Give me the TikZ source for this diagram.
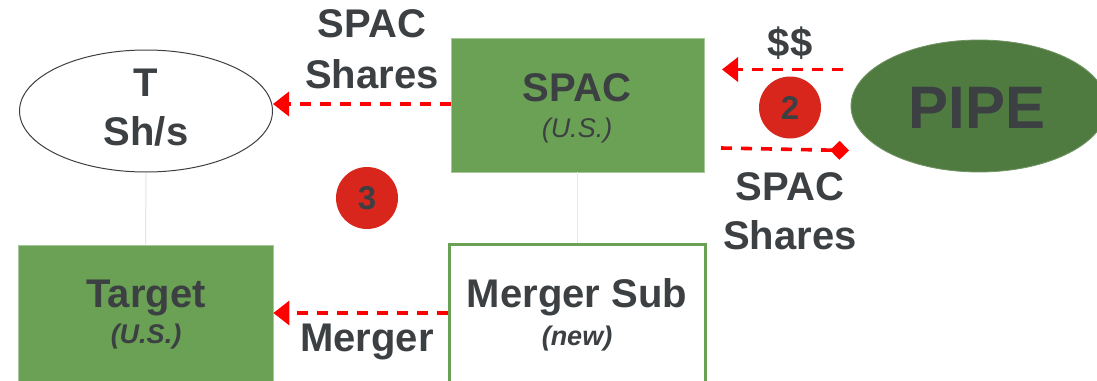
\documentclass[tikz,border=0pt]{standalone}
\usepackage{fontspec}
\setmainfont{Liberation Sans}
\usetikzlibrary{shapes.geometric,arrows.meta}
\definecolor{boxgreen}{HTML}{6AA155}
\definecolor{pipegreen}{HTML}{507B40}
\definecolor{inkgray}{HTML}{3C4043}
\definecolor{badgered}{HTML}{D9261C}
\definecolor{flowred}{HTML}{FF0000}
\definecolor{linkgray}{HTML}{E4E8DE}
\tikzset{
  every node/.style={text=inkgray, font=\bfseries, align=center},
  big/.style={font=\fontsize{40}{46}\selectfont\bfseries},
  sub/.style={font=\fontsize{27}{31}\selectfont\bfseries\itshape},
  subreg/.style={font=\fontsize{27}{31}\selectfont\itshape},
  entity/.style={rectangle, fill=boxgreen, draw=boxgreen!60!white, line width=0.8pt, inner sep=0pt},
  newentity/.style={rectangle, fill=white, draw=boxgreen, line width=3pt, inner sep=0pt},
  holders/.style={ellipse, draw=inkgray, line width=1pt, fill=white, inner sep=0pt},
  investor/.style={ellipse, fill=pipegreen, draw=pipegreen!80!white, line width=0.8pt, inner sep=0pt},
  badge/.style={circle, fill=badgered, inner sep=0pt, minimum size=62pt,
    font=\fontsize{33}{37}\selectfont\bfseries},
  flow/.style={draw=flowred, line width=3.6pt, dash pattern=on 11pt off 9pt},
  towards/.style={flow, -{Triangle[length=16pt,width=24pt]}},
  deliver/.style={flow, -{Diamond[length=19pt,width=19pt]}},
  link/.style={draw=linkgray, line width=1pt}
}
\begin{document}
\begin{tikzpicture}[x=1pt,y=-1pt]
\useasboundingbox (0,0) rectangle (1097,380);
\clip (0,0) rectangle (1097,380);
\fill[white] (0,0) rectangle (1097,380);

% entities
\node[holders, minimum width=253pt, minimum height=122pt] (tsh) at (146,111) {};
\node[big] (tshT) at (146,83) {T};
\node[big] (tshS) at (146,131) {Sh/s};

\node[entity, minimum width=253pt, minimum height=134pt] (spac) at (577.5,105) {};
\node[big] (spacname) at (577,88) {SPAC};
\node[subreg] (spacjur) at (577,131) {(U.S.)};

\node[entity, minimum width=255pt, minimum height=140pt] (target) at (145.5,315) {};
\node[big] (targetname) at (146,298) {Target};
\node[sub] (targetjur) at (146,337) {(U.S.)};

\node[newentity, minimum width=256pt, minimum height=140pt] (msub) at (577.5,314) {};
\node[big] (msubname) at (577,297) {Merger Sub};
\node[sub] (msubnote) at (577,339) {(new)};

\node[investor, minimum width=256pt, minimum height=132pt] (pipe) at (979,106) {};
\node[font=\fontsize{60}{66}\selectfont\bfseries] (pipename) at (977,108) {PIPE};

% ownership links
\draw[link] (tsh.south) -- (target.north);
\draw[link] (spac.south) -- (msub.north);

% step badges
\node[badge] (two) at (790,107.5) {2};
\node[badge] (three) at (367,198) {3};

% flows
\draw[towards] (spac.west |- 0,104) -- (tsh.east |- 0,104);
\node[big] (shl1) at (372,24) {SPAC};
\node[big] (shl2) at (372,74) {Shares};

\coordinate (cashfrom) at (843,69.5);
\coordinate (cashto) at (722,69.5);
\draw[towards] (cashfrom) -- (cashto);
\node[big] (cash) at (790,43) {\$\$};

\coordinate (shfrom) at (721,148);
\coordinate (shto) at (849,150.5);
\draw[deliver] (shfrom) -- (shto);
\node[big] (shr1) at (790,187) {SPAC};
\node[big] (shr2) at (790,235) {Shares};

\draw[towards] (msub.west |- 0,313) -- (target.east |- 0,313);
\node[big] (mergerlbl) at (367,342) {Merger};
\end{tikzpicture}
\end{document}
